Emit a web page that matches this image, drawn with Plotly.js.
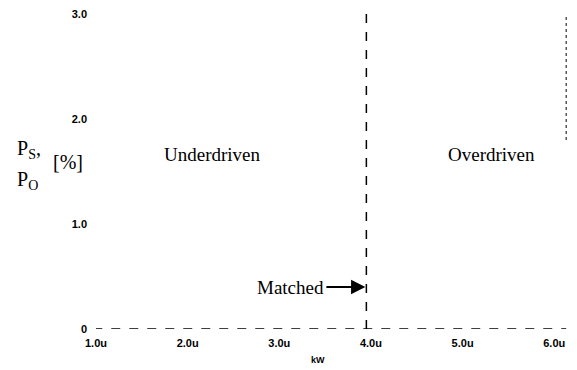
<!DOCTYPE html>
<html><head><meta charset="utf-8">
<script src="https://cdn.plot.ly/plotly-3.0.1.min.js"></script>
<style>html,body{margin:0;padding:0;background:#fff}</style>
</head><body>
<div id="chart" style="width:577px;height:370px"></div>
<script>
// Data
const xTickVals = [1, 2, 3, 4, 5, 6];
const xTickText = ["1.0u", "2.0u", "3.0u", "4.0u", "5.0u", "6.0u"];
const yTickVals = [0, 1, 2, 3];
const yTickText = ["0", "1.0", "2.0", "3.0"];
const baselineX = [0.97, 6.13];
const baselineY = [0, 0];
const matchedX = [3.95, 3.95];
const matchedY = [0, 3.0];
const rightEdgeX = [6.13, 6.13];
const rightEdgeY = [1.8, 3.0];
const regionLabels = ["Underdriven", "Overdriven"];
const regionX = [2.27, 5.32];
const regionY = [1.66, 1.66];
const matchedArrowY = 0.4;

const lineStyle = {color: "#000", width: 1.5, dash: "dash"};
const traces = [
  {x: baselineX, y: baselineY, mode: "lines", line: lineStyle, hoverinfo: "skip", cliponaxis: false},
  {x: matchedX, y: matchedY, mode: "lines", line: lineStyle, hoverinfo: "skip"},
  {x: rightEdgeX, y: rightEdgeY, mode: "lines", line: {color: "#000", width: 1, dash: "dot"}, hoverinfo: "skip"}
];

const serif = {family: "Liberation Serif, Times New Roman, serif", size: 19, color: "#000"};
const annotations = [];
regionLabels.forEach((t, i) => annotations.push({
  x: regionX[i], y: regionY[i], xref: "x", yref: "y", text: t, showarrow: false, font: serif
}));
annotations.push({
  x: matchedX[0], y: matchedArrowY, xref: "x", yref: "y", text: "Matched",
  showarrow: true, ax: -40, ay: 0, xanchor: "right", arrowhead: 2, arrowsize: 1.3,
  arrowwidth: 2.2, arrowcolor: "#000", standoff: 1, font: serif
});
const yLabelFont = {family: "Liberation Serif, Times New Roman, serif", size: 20, color: "#000"};
annotations.push({xref: "paper", yref: "paper", x: -0.172, y: 0.57, text: "P<sub>S</sub>,", showarrow: false, font: yLabelFont, xanchor: "left"});
annotations.push({xref: "paper", yref: "paper", x: -0.172, y: 0.47, text: "P<sub>O</sub>", showarrow: false, font: yLabelFont, xanchor: "left"});
annotations.push({xref: "paper", yref: "paper", x: -0.059, y: 0.53, text: "[%]", showarrow: false, font: yLabelFont, xanchor: "center"});
const tickFont = {family: "Liberation Sans, Arial, sans-serif", size: 11, color: "#000", weight: "bold"};
annotations.push({xref: "paper", yref: "paper", x: 0.47, y: -0.075, yanchor: "top", text: "kW", showarrow: false, font: {family: tickFont.family, size: 9, color: "#000", weight: "bold"}});

const layout = {
  width: 577, height: 370,
  margin: {l: 96, r: 9, t: 14, b: 41},
  paper_bgcolor: "#fff", plot_bgcolor: "#fff",
  showlegend: false,
  xaxis: {
    range: [1, 6.15], tickvals: xTickVals, ticktext: xTickText, showgrid: false,
    zeroline: false, showline: false, ticks: "", tickfont: tickFont, ticklabelstandoff: 6
  },
  yaxis: {
    range: [0, 3.0], tickvals: yTickVals, ticktext: yTickText, showgrid: false,
    zeroline: false, showline: false, ticks: "", tickfont: tickFont, ticklabelstandoff: 8
  },
  annotations: annotations
};
Plotly.newPlot("chart", traces, layout, {displayModeBar: false, staticPlot: true});
</script>
</body></html>
